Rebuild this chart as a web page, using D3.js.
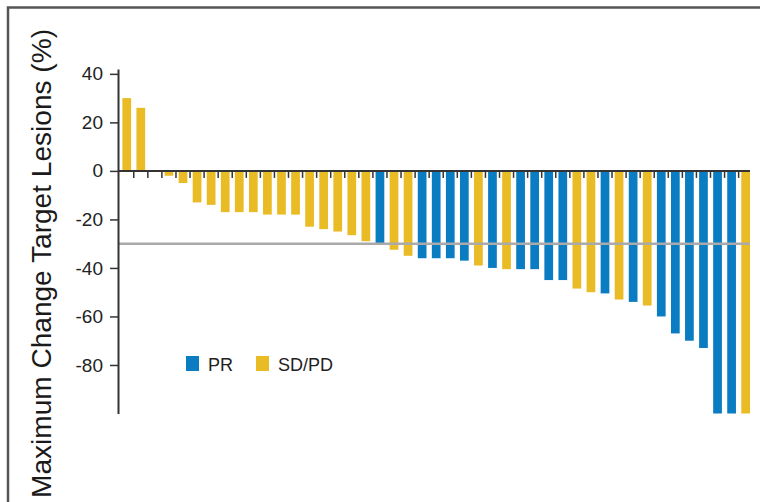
<!DOCTYPE html>
<html>
<head>
<meta charset="utf-8">
<script src="https://cdn.jsdelivr.net/npm/d3@7"></script>
<style>
  html, body { margin: 0; padding: 0; background: #fff; }
  svg { display: block; }
</style>
</head>
<body>
<svg id="chart" width="760" height="502"></svg>
<script>
// Waterfall of best change in target lesions, one bar per patient
const patients = d3.range(1, 46).map(i => "P" + i);
const changes = [
  30, 26, 0, -2, -5, -13, -14, -17, -17, -17, -18, -18, -18, -23, -24,
  -25, -26.5, -29, -30, -32.5, -35, -36, -36, -36, -37, -39, -40, -40.5, -40.5, -40.5,
  -45, -45, -48.5, -50, -50.5, -53, -54, -55.5, -60, -67, -70, -73, -100, -100, -100
];
const responses = [
  "SD/PD", "SD/PD", "SD/PD", "SD/PD", "SD/PD", "SD/PD", "SD/PD", "SD/PD", "SD/PD", "SD/PD",
  "SD/PD", "SD/PD", "SD/PD", "SD/PD", "SD/PD", "SD/PD", "SD/PD", "SD/PD", "PR", "SD/PD",
  "SD/PD", "PR", "PR", "PR", "PR", "SD/PD", "PR", "SD/PD", "PR", "PR",
  "PR", "PR", "SD/PD", "SD/PD", "PR", "SD/PD", "PR", "SD/PD", "PR", "PR",
  "PR", "PR", "PR", "PR", "SD/PD"
];
const yTicks = [40, 20, 0, -20, -40, -60, -80];
const legendKeys = ["PR", "SD/PD"];
const threshold = -30;

const colors = { "PR": "#0a7cc1", "SD/PD": "#e9bb24" };
const svg = d3.select("#chart");

// frame around the figure panel
svg.append("path")
  .attr("d", "M8,503 L8,7.5 L761,7.5")
  .attr("fill", "none")
  .attr("stroke", "#555")
  .attr("stroke-width", 2.5);

const x = d3.scaleBand()
  .domain(patients)
  .range([119.7, 752.7])
  .paddingInner(0.38)
  .paddingOuter(0.19);

const y = d3.scaleLinear()
  .domain([-100, 42])
  .range([413.5, 69]);

const data = patients.map((p, i) => ({ id: p, value: changes[i], resp: responses[i] }));

// bars
svg.append("g")
  .selectAll("rect")
  .data(data)
  .join("rect")
  .attr("x", d => x(d.id))
  .attr("width", x.bandwidth())
  .attr("y", d => Math.min(y(0), y(d.value)))
  .attr("height", d => Math.abs(y(d.value) - y(0)))
  .attr("fill", d => colors[d.resp]);

// -30% reference line
svg.append("line")
  .attr("x1", 118).attr("x2", 750)
  .attr("y1", y(threshold)).attr("y2", y(threshold))
  .attr("stroke", "#aaaaaa")
  .attr("stroke-width", 2.5);

// y axis
const yAxis = d3.axisLeft(y)
  .tickValues(yTicks)
  .tickSize(8)
  .tickSizeOuter(0)
  .tickPadding(7)
  .tickFormat(d => String(d));

const gy = svg.append("g")
  .attr("transform", "translate(118,0)")
  .call(yAxis);
gy.select(".domain").attr("stroke", "#333").attr("stroke-width", 2);
gy.selectAll(".tick line").attr("stroke", "#333").attr("stroke-width", 1.5);
gy.selectAll(".tick text")
  .attr("fill", "#222")
  .style("font-family", "'Liberation Sans', Arial, sans-serif")
  .style("font-size", "19px");

// zero baseline with separators between bars
const y0 = y(0);
svg.append("line")
  .attr("x1", 118).attr("x2", 750)
  .attr("y1", y0).attr("y2", y0)
  .attr("stroke", "#333")
  .attr("stroke-width", 2);

const gap = (x.step() - x.bandwidth()) / 2;
svg.append("g")
  .selectAll("line")
  .data(patients.slice(1))
  .join("line")
  .attr("x1", d => x(d) - gap).attr("x2", d => x(d) - gap)
  .attr("y1", y0).attr("y2", y0 + 7)
  .attr("stroke", "#333")
  .attr("stroke-width", 1.5);

// y axis title
svg.append("text")
  .attr("transform", "translate(51,498) rotate(-90)")
  .attr("text-anchor", "start")
  .attr("textLength", 469)
  .attr("lengthAdjust", "spacingAndGlyphs")
  .attr("fill", "#1a1a1a")
  .style("font-family", "'Liberation Sans Narrow', 'Liberation Sans', Arial, sans-serif")
  .style("font-size", "27px")
  .text("Maximum Change Target Lesions (%)");

// legend
const legend = svg.append("g").attr("transform", "translate(186,356)");
const items = legend.selectAll("g")
  .data(legendKeys)
  .join("g")
  .attr("transform", (d, i) => `translate(${i * 70},0)`);
items.append("rect")
  .attr("width", 13).attr("height", 15)
  .attr("fill", d => colors[d]);
items.append("text")
  .attr("x", 22).attr("y", 14.5)
  .attr("fill", "#222")
  .style("font-family", "'Liberation Sans', Arial, sans-serif")
  .style("font-size", "18px")
  .text(d => d);
</script>
</body>
</html>
